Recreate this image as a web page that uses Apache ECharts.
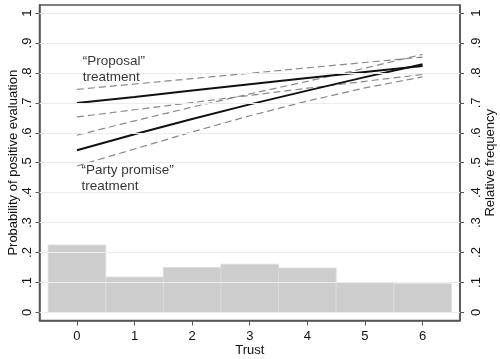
<!DOCTYPE html>
<html><head><meta charset="utf-8">
<script src="https://cdn.jsdelivr.net/npm/echarts@6/dist/echarts.min.js"></script>
<style>html,body{margin:0;padding:0;background:#fff}#c{width:500px;height:359px}</style>
</head><body><div id="c"></div>
<script>
const trust = [0, 1, 2, 3, 4, 5, 6];
const histFreq = [0.225, 0.118, 0.150, 0.161, 0.148, 0.100, 0.096];
const proposal = [0.700, 0.720, 0.741, 0.762, 0.783, 0.803, 0.823];
const proposalHi = [0.745, 0.763, 0.781, 0.799, 0.817, 0.835, 0.853];
const proposalLo = [0.653, 0.677, 0.701, 0.725, 0.749, 0.772, 0.795];
const party = [0.542, 0.595, 0.646, 0.695, 0.741, 0.786, 0.829];
const partyHi = [0.592, 0.640, 0.686, 0.730, 0.772, 0.816, 0.862];
const partyLo = [0.489, 0.546, 0.603, 0.657, 0.706, 0.750, 0.787];
const yTicks = [0, 0.1, 0.2, 0.3, 0.4, 0.5, 0.6, 0.7, 0.8, 0.9, 1];
const annotations = [
  {x: 0.10, y: 0.812, text: '\u201CProposal\u201D\ntreatment'},
  {x: 0.08, y: 0.447, text: '\u201CParty promise\u201D\ntreatment'}
];

const FONT = 'Liberation Sans, Arial, sans-serif';
const FS = 13;
const fmt = v => { const r = Math.round(v * 10) / 10; if (r === 0) return '0'; if (r === 1) return '1'; return String(r).replace('0.', '.'); };
const pair = arr => trust.map((t, i) => [t, arr[i]]);

function yAxisCfg(pos, name) {
  return {
    type: 'value', position: pos, min: -0.027, max: 1.027,
    name: name, nameLocation: 'middle', nameRotate: 90, nameGap: pos === 'left' ? 20 : 24,
    nameMoveOverlap: false,
    nameTextStyle: {fontFamily: FONT, fontSize: FS, color: '#111'},
    axisLine: {show: true, onZero: false, lineStyle: {color: '#555', width: 1.5}},
    axisTick: {show: true, length: 4, customValues: yTicks, lineStyle: {color: '#555'}},
    axisLabel: {show: true, rotate: 90, margin: pos === 'left' ? 6 : 10, customValues: yTicks, formatter: fmt,
      fontFamily: FONT, fontSize: FS, color: '#111'},
    splitLine: {show: false}
  };
}

const dashed = (data) => ({type: 'line', data: pair(data), symbol: 'none', silent: true,
  lineStyle: {color: '#8a8a8a', width: 1.2, type: [7, 4]}, z: 3});
const solid = (data) => ({type: 'line', data: pair(data), symbol: 'none', silent: true,
  lineStyle: {color: '#111', width: 2}, z: 4});

const chart = echarts.init(document.getElementById('c'), null, {renderer: 'canvas'});
chart.setOption({
  animation: false,
  grid: {left: 39.5, right: 40, top: 5, bottom: 38.5, show: true, borderColor: '#555', borderWidth: 1.5,
    containLabel: false, outerBoundsMode: 'none'},
  xAxis: {
    type: 'value', min: -0.65, max: 6.65,
    name: 'Trust', nameLocation: 'middle', nameGap: 23, nameMoveOverlap: false,
    nameTextStyle: {fontFamily: FONT, fontSize: FS, color: '#111'},
    axisLine: {show: true, onZero: false, lineStyle: {color: '#555', width: 1.5}},
    axisTick: {show: true, length: 5, customValues: trust, lineStyle: {color: '#555'}},
    axisLabel: {customValues: trust, fontFamily: FONT, fontSize: FS, color: '#111', margin: 9},
    splitLine: {show: false}
  },
  yAxis: [yAxisCfg('left', 'Probability of positive evaluation'), yAxisCfg('right', 'Relative frequency')],
  series: [
    {
      type: 'line', data: [], silent: true,
      markLine: {silent: true, symbol: 'none', label: {show: false},
        lineStyle: {color: '#ececec', width: 1, type: 'solid'},
        data: yTicks.map(v => ({yAxis: v}))}
    },
    {
      type: 'custom', silent: true, z: 2,
      data: pair(histFreq),
      renderItem: (params, api) => {
        const x = api.value(0), y = api.value(1);
        const p1 = api.coord([x - 0.5, y]);
        const p2 = api.coord([x + 0.5, 0]);
        return {type: 'rect', shape: {x: p1[0], y: p1[1], width: p2[0] - p1[0], height: p2[1] - p1[1]},
          style: {fill: '#cdcdcd', stroke: '#dadada', lineWidth: 0.8}};
      }
    },
    dashed(proposalHi), dashed(proposalLo), dashed(partyHi), dashed(partyLo),
    solid(proposal), solid(party),
    {
      type: 'scatter', silent: true, symbolSize: 0, z: 5,
      data: annotations.map(a => ({value: [a.x, a.y], name: a.text})),
      label: {show: true, position: 'right', distance: 0, formatter: p => p.name,
        fontFamily: FONT, fontSize: 13.5, color: '#000', lineHeight: 16, align: 'left'}
    }
  ]
});
</script></body></html>
